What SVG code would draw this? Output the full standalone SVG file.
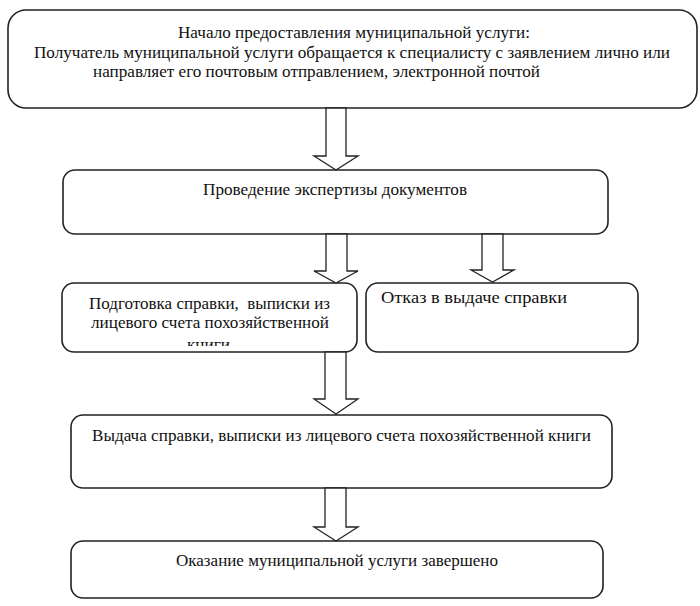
<svg xmlns="http://www.w3.org/2000/svg" width="700" height="606" viewBox="0 0 700 606">
<style>
.box{fill:#fff;stroke:#222;stroke-width:1.6}
.arr{fill:#fff;stroke:#222;stroke-width:1.3;stroke-linejoin:miter}
.t{font-family:'Times New Roman','Liberation Serif',serif;font-size:17px;fill:#111}
</style>
<defs>
<clipPath id="clip3"><rect x="62" y="283" width="295" height="63"/></clipPath>
</defs>
<rect width="700" height="606" fill="#fff"/>
<g id="n1">
<rect class="box" x="8" y="10" width="689" height="98" rx="18"/>
<text class="t" x="178" y="38" textLength="352" lengthAdjust="spacingAndGlyphs">Начало предоставления муниципальной услуги:</text>
<text class="t" x="34" y="58" textLength="636" lengthAdjust="spacingAndGlyphs">Получатель муниципальной услуги обращается к специалисту с заявлением лично или</text>
<text class="t" x="93" y="77" textLength="447" lengthAdjust="spacingAndGlyphs">направляет его почтовым отправлением, электронной почтой</text>
</g>
<g id="n2">
<rect class="box" x="63" y="170" width="545" height="64" rx="12"/>
<text class="t" x="203" y="195" textLength="264" lengthAdjust="spacingAndGlyphs">Проведение экспертизы документов</text>
</g>
<g id="n3">
<rect class="box" x="62" y="283" width="295" height="69" rx="12"/>
<g clip-path="url(#clip3)">
<text class="t" x="89" y="309" textLength="241" lengthAdjust="spacingAndGlyphs" xml:space="preserve">Подготовка справки,  выписки из</text>
<text class="t" x="91" y="328" textLength="238" lengthAdjust="spacingAndGlyphs">лицевого счета похозяйственной</text>
<text class="t" x="187" y="350" textLength="43" lengthAdjust="spacingAndGlyphs">книги</text>
</g>
</g>
<g id="n4">
<rect class="box" x="366" y="283" width="272" height="69" rx="12"/>
<text class="t" x="381" y="303" textLength="186" lengthAdjust="spacingAndGlyphs">Отказ в выдаче справки</text>
</g>
<g id="n5">
<rect class="box" x="71" y="415" width="541" height="73" rx="12"/>
<text class="t" x="92" y="441" textLength="499" lengthAdjust="spacingAndGlyphs">Выдача справки, выписки из лицевого счета похозяйственной книги</text>
</g>
<g id="n6">
<rect class="box" x="71" y="541" width="532" height="57" rx="12"/>
<text class="t" x="176" y="566" textLength="322" lengthAdjust="spacingAndGlyphs">Оказание муниципальной услуги завершено</text>
</g>
<g id="connectors">
<polygon class="arr" points="326,108 346,108 346,156 358,156 336,170 314,156 326,156"/>
<polygon class="arr" points="326,234 347,234 347,271 358,271 336,283 314,271 326,271"/>
<polygon class="arr" points="482,234 503,234 503,270 514,270 492.5,282 471,270 482,270"/>
<polygon class="arr" points="325,352 346,352 346,399 358,399 336,414 314,399 325,399"/>
<polygon class="arr" points="325,488 346,488 346,527 358,527 336,541 314,527 325,527"/>
</g>
</svg>
